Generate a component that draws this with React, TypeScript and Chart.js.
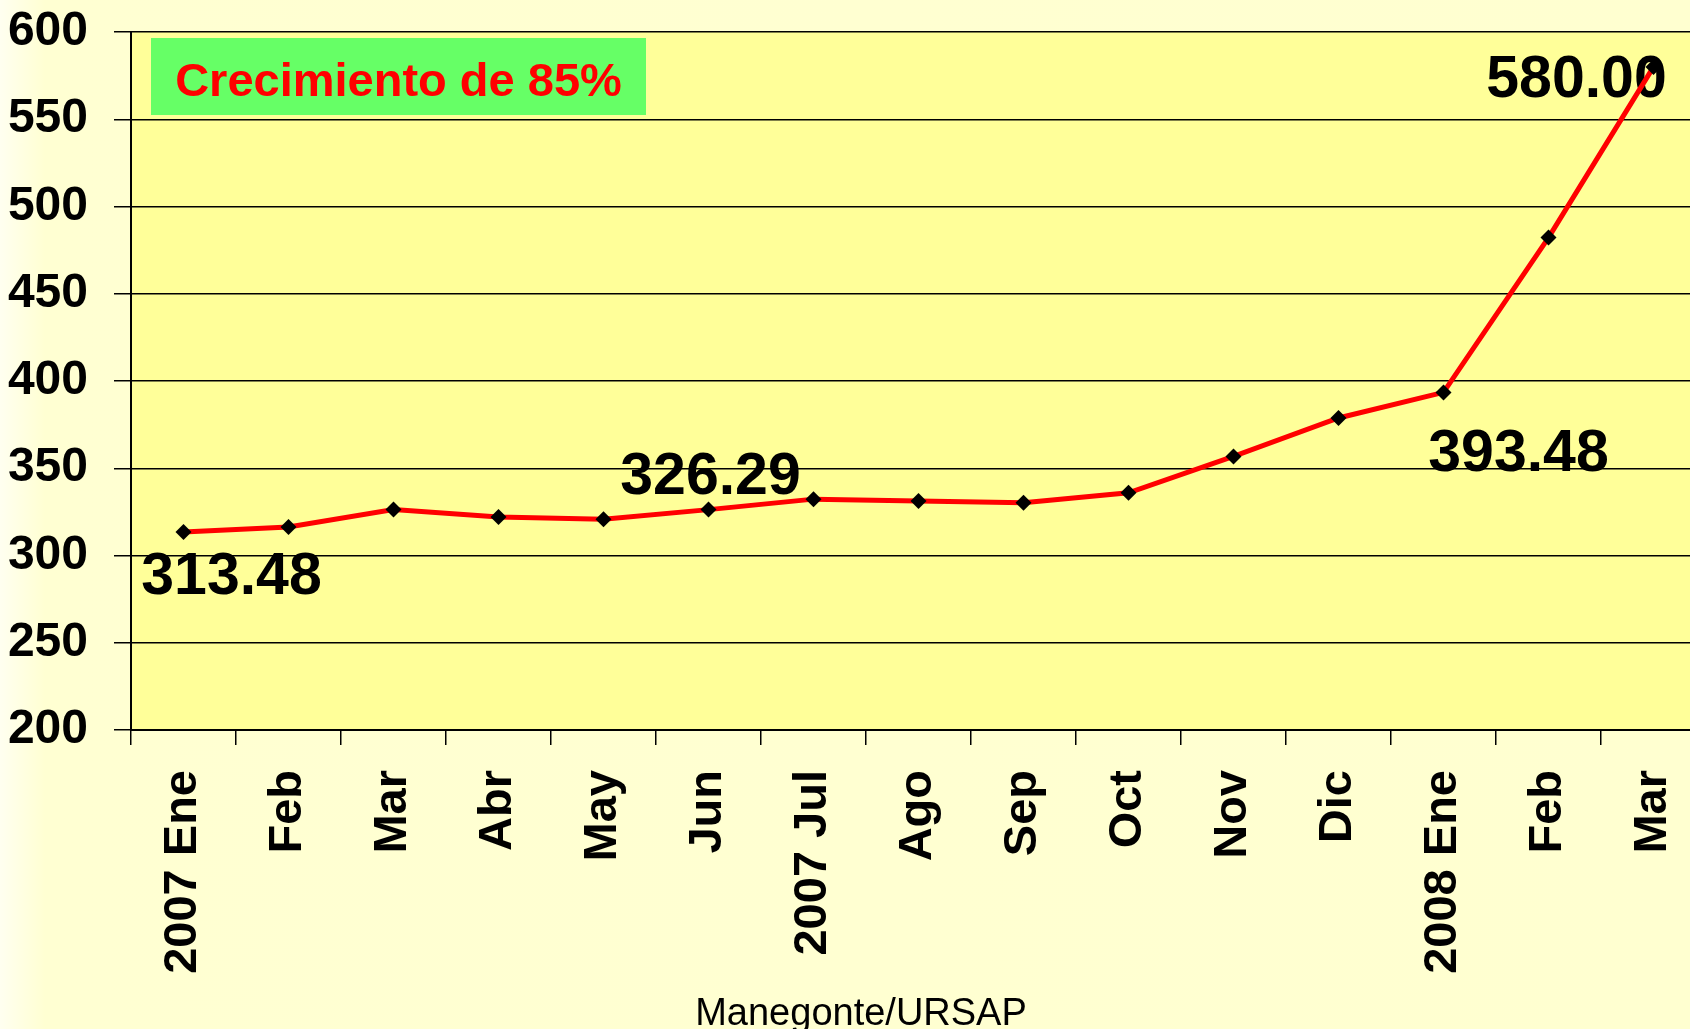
import React, { useEffect, useRef } from "react";
import { Chart, registerables } from "chart.js";

Chart.register(...registerables);

// ---- data ----
const categories = [
  "2007 Ene", "Feb", "Mar", "Abr", "May", "Jun", "2007 Jul", "Ago",
  "Sep", "Oct", "Nov", "Dic", "2008 Ene", "Feb", "Mar",
];
const values = [
  313.48, 316.3, 326.4, 322.0, 320.8, 326.29, 332.3, 331.3,
  330.2, 335.9, 356.8, 378.8, 393.48, 482.2, 580.0,
];
const yMin = 200;
const yMax = 600;
const yStep = 50;
const labelledIndices = [0, 5, 12, 14];
const boxText = "Crecimiento de 85%";
const sourceText = "Manegonte/URSAP";

// ---- style ----
const FONT = "'Liberation Sans', Arial, Helvetica, sans-serif";
const labelOffsets: Record<number, [number, number]> = {
  0: [48, 62],
  5: [2, -16],
  12: [75, 79],
  14: [-77, 30],
};

const decorPlugin = {
  id: "decor",
  beforeDraw(chart: any) {
    const { ctx, chartArea: a } = chart;
    ctx.save();
    ctx.fillStyle = "#FFFF99";
    ctx.fillRect(a.left, a.top, a.right - a.left, a.bottom - a.top);
    ctx.restore();
  },
  beforeDatasetsDraw(chart: any) {
    const { ctx } = chart;
    const meta = chart.getDatasetMeta(0);
    ctx.save();
    ctx.font = `bold 59px ${FONT}`;
    ctx.fillStyle = "#000000";
    ctx.textAlign = "center";
    ctx.textBaseline = "alphabetic";
    labelledIndices.forEach((i) => {
      const p = meta.data[i];
      const [dx, dy] = labelOffsets[i] || [0, -20];
      ctx.fillText(values[i].toFixed(2), p.x + dx, p.y + dy);
    });
    ctx.restore();
  },
  afterDraw(chart: any) {
    const { ctx } = chart;
    ctx.save();
    ctx.fillStyle = "#66FF66";
    ctx.fillRect(151, 38, 495, 77);
    ctx.font = `bold 47px ${FONT}`;
    ctx.fillStyle = "#FF0000";
    ctx.textAlign = "center";
    ctx.textBaseline = "alphabetic";
    ctx.fillText(boxText, 398.5, 96);
    ctx.font = `38px ${FONT}`;
    ctx.fillStyle = "#000000";
    ctx.fillText(sourceText, 861, 1025);
    ctx.restore();
  },
};

export default function App() {
  const ref = useRef<HTMLCanvasElement | null>(null);

  useEffect(() => {
    if (!ref.current) return;
    const chart = new Chart(ref.current, {
      type: "line",
      data: {
        labels: categories,
        datasets: [
          {
            data: values,
            borderColor: "#FF0000",
            borderWidth: 5,
            pointStyle: "rectRot",
            pointRadius: 8,
            pointBackgroundColor: "#000000",
            pointBorderColor: "#000000",
            pointBorderWidth: 0,
            tension: 0,
          },
        ],
      },
      options: {
        animation: false,
        responsive: false,
        devicePixelRatio: 1,
        layout: { padding: { top: 32, right: 14, left: 0, bottom: 0 } },
        plugins: {
          legend: { display: false },
          title: { display: false },
          tooltip: { enabled: false },
        },
        scales: {
          x: {
            type: "category",
            offset: true,
            afterFit(scale: any) {
              scale.height = 299;
              scale.paddingLeft = 0;
              scale.paddingRight = 0;
            },
            grid: {
              offset: true,
              drawOnChartArea: false,
              drawTicks: true,
              tickLength: 15,
              color: "#000000",
              lineWidth: 1.5,
            },
            border: { display: true, color: "#000000", width: 2 },
            ticks: {
              autoSkip: false,
              minRotation: 90,
              maxRotation: 90,
              padding: 25,
              color: "#000000",
              font: { family: FONT, size: 47, weight: "bold" },
            },
          },
          y: {
            min: yMin,
            max: yMax,
            afterFit(scale: any) {
              scale.width = 131;
              scale.paddingTop = 0;
              scale.paddingBottom = 0;
            },
            grid: {
              drawOnChartArea: true,
              drawTicks: true,
              tickLength: 17,
              color: "#000000",
              lineWidth: 1.5,
            },
            border: { display: true, color: "#000000", width: 2 },
            ticks: {
              stepSize: yStep,
              padding: 26,
              color: "#000000",
              font: { family: FONT, size: 48, weight: "bold" },
            },
          },
        },
      },
      plugins: [decorPlugin],
    });
    return () => chart.destroy();
  }, []);

  return (
    <div
      style={{
        position: "fixed",
        left: 0,
        top: 0,
        width: 1690,
        height: 1029,
        overflow: "hidden",
        background: "linear-gradient(to right, #FFFFF0 0px, #FFFFD2 45px, #FFFFD0 100%)",
      }}
    >
      <canvas ref={ref} width={1720} height={1029} style={{ display: "block" }} />
    </div>
  );
}
